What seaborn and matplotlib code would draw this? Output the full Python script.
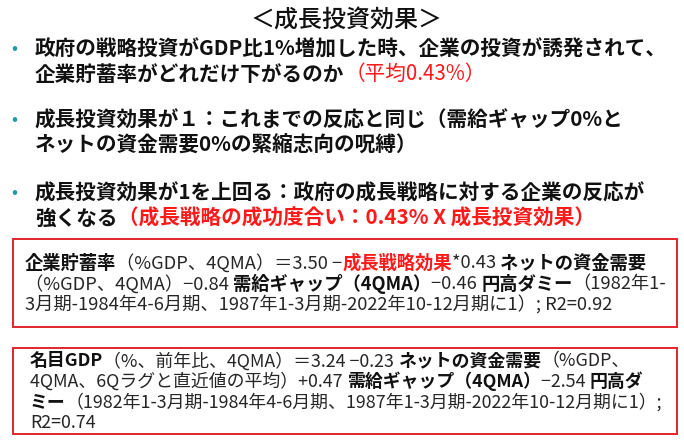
import matplotlib
matplotlib.use("Agg")
import matplotlib.pyplot as plt
import seaborn as sns
from matplotlib.patches import Rectangle

# ---- content -------------------------------------------------------------
TITLE = "＜成長投資効果＞"

BULLET_1 = [
    [("政府の戦略投資がGDP比1%増加した時、企業の投資が誘発されて、", "b")],
    [("企業貯蓄率がどれだけ下がるのか", "b"), ("（平均0.43%）", "r")],
]
BULLET_2 = [
    [("成長投資効果が１：これまでの反応と同じ（需給ギャップ0%と", "b")],
    [("ネットの資金需要0%の緊縮志向の呪縛）", "b")],
]
BULLET_3 = [
    [("成長投資効果が1を上回る：政府の成長戦略に対する企業の反応が", "b")],
    [("強くなる", "b"), ("（成長戦略の成功度合い：0.43% X 成長投資効果）", "br")],
]

EQUATION_1 = [
    [("企業貯蓄率", "b"), ("（%GDP、4QMA）＝3.50 −", "n"), ("成長戦略効果", "br"),
     ("*0.43 ", "n"), ("ネットの資金需要", "b")],
    [("（%GDP、4QMA）−0.84 ", "n"), ("需給ギャップ（4QMA）", "b"), ("−0.46 ", "n"),
     ("円高ダミー", "b"), ("（1982年1-", "n")],
    [("3月期-1984年4-6月期、1987年1-3月期-2022年10-12月期に1）; R2=0.92", "n")],
]
EQUATION_2 = [
    [("名目GDP", "b"), ("（%、前年比、4QMA）＝3.24 −0.23 ", "n"), ("ネットの資金需要", "b"),
     ("（%GDP、", "n")],
    [("4QMA、6Qラグと直近値の平均）+0.47 ", "n"), ("需給ギャップ（4QMA）", "b"),
     ("−2.54 ", "n"), ("円高ダ", "b")],
    [("ミー", "b"), ("（1982年1-3月期-1984年4-6月期、1987年1-3月期-2022年10-12月期に1）;", "n")],
    [("R2=0.74", "n")],
]

# ---- style ---------------------------------------------------------------
sns.set_theme(style="white")
FAMILY = ["Noto Sans CJK JP", "DejaVu Sans"]
plt.rcParams["font.family"] = FAMILY

RED = "#ff1a1a"
TEAL = "#1f9ca6"
BOX_RED = "#e2262c"
STYLES = {
    "b": dict(weight="bold", color="#111111"),
    "n": dict(weight="normal", color="#262626"),
    "r": dict(weight="normal", color=RED),
    "br": dict(weight="bold", color=RED),
}

W, H = 684, 442
fig = plt.figure(figsize=(W / 100, H / 100), dpi=100)
ax = fig.add_axes([0, 0, 1, 1])
ax.set_xlim(0, W)
ax.set_ylim(H, 0)
ax.axis("off")
renderer = fig.canvas.get_renderer()


def px2pt(px):
    return px * 72 / 100


def text_width(s, size_pt, weight):
    probe = ax.text(0, 0, s + "l", fontsize=size_pt, weight=weight, family=FAMILY)
    ref = ax.text(0, 0, "l", fontsize=size_pt, weight=weight, family=FAMILY)
    w = probe.get_window_extent(renderer).width - ref.get_window_extent(renderer).width
    probe.remove()
    ref.remove()
    return w


def rich_line(x, y, segments, size_px):
    size_pt = px2pt(size_px)
    for s, key in segments:
        st = STYLES[key]
        ax.text(x, y, s, fontsize=size_pt, va="center", ha="left",
                family=FAMILY, **st)
        x += text_width(s, size_pt, st["weight"])


# title
ax.text(347, 20, TITLE, fontsize=px2pt(24), ha="center", va="center",
        color="#111111", family=FAMILY, weight="medium")

# bullets
BULLET_SIZE = 20.6
for lines, y0 in ((BULLET_1, 49), (BULLET_2, 120), (BULLET_3, 193)):
    ax.text(14, y0, "•", fontsize=px2pt(18), color=TEAL, ha="center", va="center",
            family=FAMILY)
    for i, seg in enumerate(lines):
        rich_line(35, y0 + i * 25, seg, BULLET_SIZE)

# boxes
ax.add_patch(Rectangle((13, 239), 664, 88, fill=False, edgecolor=BOX_RED, lw=1.4))
for i, seg in enumerate(EQUATION_1):
    rich_line(25, 263 + i * 21, seg, 18.3)

ax.add_patch(Rectangle((13, 348), 664, 86, fill=False, edgecolor=BOX_RED, lw=1.4))
for i, seg in enumerate(EQUATION_2):
    rich_line(30, 361 + i * 20.7, seg, 17.9)

fig.savefig("out.png", dpi=100)
